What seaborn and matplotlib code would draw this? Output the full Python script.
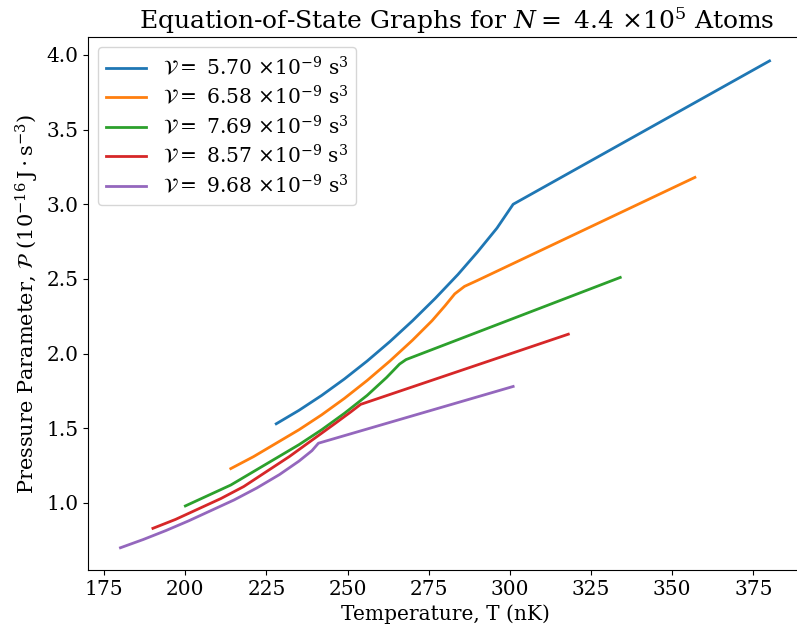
import matplotlib
matplotlib.use("Agg")
import matplotlib.pyplot as plt
import seaborn as sns

plt.rcParams["font.family"] = ["DejaVu Serif"]
plt.rcParams["mathtext.fontset"] = "dejavuserif"
plt.rcParams["font.size"] = 15

volumes = ["5.70", "6.58", "7.69", "8.57", "9.68"]

T_570 = [228, 235, 242, 249, 256, 263, 270, 277, 284, 290, 296, 301, 380]
P_570 = [1.53, 1.62, 1.72, 1.83, 1.95, 2.08, 2.22, 2.37, 2.53, 2.68, 2.84, 3.00, 3.96]

T_658 = [214, 221, 228, 235, 242, 249, 256, 263, 270, 276, 280, 283, 286, 290, 357]
P_658 = [1.23, 1.31, 1.40, 1.49, 1.59, 1.70, 1.82, 1.95, 2.09, 2.22, 2.32, 2.40, 2.45, 2.49, 3.18]

T_769 = [200, 207, 214, 221, 228, 235, 242, 249, 256, 262, 266, 268, 334]
P_769 = [0.98, 1.05, 1.12, 1.21, 1.30, 1.39, 1.49, 1.60, 1.72, 1.84, 1.93, 1.96, 2.51]

T_857 = [190, 197, 204, 211, 218, 225, 232, 239, 246, 251, 254, 318]
P_857 = [0.83, 0.89, 0.96, 1.03, 1.11, 1.21, 1.31, 1.42, 1.53, 1.61, 1.66, 2.13]

T_968 = [180, 187, 194, 201, 208, 215, 222, 229, 235, 239, 241, 301]
P_968 = [0.70, 0.755, 0.815, 0.88, 0.95, 1.02, 1.10, 1.19, 1.28, 1.35, 1.40, 1.78]

series_T = [T_570, T_658, T_769, T_857, T_968]
series_P = [P_570, P_658, P_769, P_857, P_968]
colors = sns.color_palette("tab10", 5)

fig = plt.figure(figsize=(7.97, 6.36), dpi=100)
ax = fig.add_axes([88 / 797, 66 / 636, 714 / 797, 533 / 636])

for v, T, P, c in zip(volumes, series_T, series_P, colors):
    lab = r"$\mathcal{V} = $ " + v + r" $\times 10^{-9}$ s$^3$"
    sns.lineplot(x=T, y=P, ax=ax, color=c, label=lab, linewidth=2.0)

ax.set_xlim(170, 390)
ax.set_ylim(0.551, 4.12)
ax.set_xticks([175, 200, 225, 250, 275, 300, 325, 350, 375])
ax.set_yticks([1.0, 1.5, 2.0, 2.5, 3.0, 3.5, 4.0])
ax.tick_params(labelsize=14.5)
ax.set_xlabel("Temperature, T (nK)", fontsize=14.5)
ax.set_ylabel(r"Pressure Parameter, $\mathcal{P}$ $(10^{-16}\,\mathrm{J}\cdot\mathrm{s}^{-3})$")
ax.set_title(r"Equation-of-State Graphs for $N = $ 4.4 $\times 10^5$ Atoms", fontsize=18, x=0.517)
ax.legend(loc="upper left", fontsize=14.5, labelspacing=0.3)

fig.savefig("out.png", dpi=100)
